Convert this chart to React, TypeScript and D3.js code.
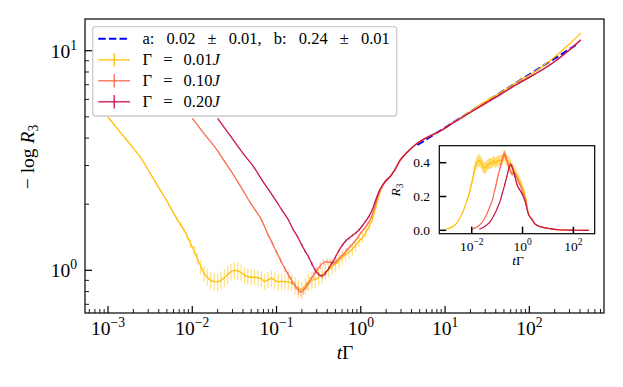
import React from "react";
import * as d3 from "d3";

// ---- data: t·Γ and −log R3 (with error of −log R3) ----
const yellowT = [0.001, 0.00141, 0.002, 0.0024, 0.00316, 0.00417, 0.00525, 0.00661,
  0.00724, 0.00794, 0.00871, 0.00955, 0.0105, 0.0115, 0.0126, 0.0138, 0.0151, 0.0166,
  0.0182, 0.02, 0.0219, 0.024, 0.0263, 0.0288, 0.0316, 0.0347, 0.038, 0.0417,
  0.0457, 0.0501, 0.055, 0.0603, 0.0661, 0.0724, 0.0794, 0.0871, 0.0955, 0.105,
  0.115, 0.126, 0.138, 0.151, 0.166, 0.182, 0.2, 0.219, 0.24, 0.263,
  0.288, 0.316, 0.347, 0.38, 0.417, 0.457, 0.501, 0.55, 0.603, 0.661,
  0.724, 0.794, 0.871, 0.955, 1.05, 1.15, 1.26, 1.38, 1.51, 1.66,
  1.82, 2.0, 2.24, 2.51, 2.95, 3.55, 4.68, 6.31, 8.91, 11.7,
  18.2, 28.8, 45.7, 72.4, 115, 182, 282, 407];
const yellowY = [4.99, 4.24, 3.6, 3.29, 2.77, 2.32, 2.0, 1.71,
  1.62, 1.53, 1.43, 1.32, 1.23, 1.13, 1.04, 0.97, 0.93, 0.9,
  0.89, 0.885, 0.9, 0.925, 0.955, 0.985, 1.0, 0.995, 0.975, 0.95,
  0.935, 0.93, 0.93, 0.925, 0.915, 0.89, 0.905, 0.92, 0.9, 0.885,
  0.89, 0.885, 0.885, 0.875, 0.855, 0.825, 0.815, 0.85, 0.885, 0.9,
  0.91, 0.93, 0.955, 0.985, 1.01, 1.04, 1.07, 1.1, 1.14, 1.18,
  1.21, 1.25, 1.3, 1.36, 1.41, 1.49, 1.59, 1.72, 1.95, 2.22,
  2.42, 2.55, 2.67, 2.85, 3.18, 3.45, 3.79, 4.05, 4.32, 4.63,
  5.17, 5.8, 6.45, 7.2, 8.0, 9.1, 10.5, 12.0];
const yellowErr = [0.01, 0.015, 0.02, 0.02, 0.025, 0.03, 0.035, 0.04,
  0.045, 0.05, 0.055, 0.06, 0.065, 0.07, 0.075, 0.08, 0.08, 0.08,
  0.085, 0.085, 0.085, 0.09, 0.09, 0.09, 0.09, 0.09, 0.085, 0.08,
  0.08, 0.08, 0.075, 0.075, 0.075, 0.075, 0.075, 0.075, 0.075, 0.075,
  0.075, 0.075, 0.075, 0.075, 0.075, 0.075, 0.075, 0.075, 0.08, 0.08,
  0.08, 0.08, 0.08, 0.08, 0.08, 0.085, 0.085, 0.085, 0.085, 0.085,
  0.085, 0.085, 0.085, 0.085, 0.08, 0.08, 0.075, 0.07, 0.06, 0.045,
  0.03, 0.02, 0.015, 0.01, 0.01, 0.01, 0.01, 0.01, 0.01, 0.01,
  0.01, 0.01, 0.01, 0.01, 0.01, 0.01, 0.01, 0.01];

const redT = [0.01, 0.0141, 0.02, 0.0235, 0.0316, 0.0398, 0.0501, 0.056,
  0.0673, 0.0794, 0.0891, 0.1, 0.112, 0.126, 0.138, 0.151, 0.166, 0.182,
  0.195, 0.209, 0.229, 0.251, 0.275, 0.302, 0.331, 0.363, 0.398, 0.437,
  0.479, 0.525, 0.575, 0.631, 0.692, 0.759, 0.832, 0.912, 1.0, 1.1,
  1.2, 1.32, 1.45, 1.58, 1.74, 2.0, 2.24, 2.51, 2.95, 3.55,
  4.68, 6.31, 8.91, 11.7, 18.2, 28.8, 45.7, 72.4, 115, 182,
  282, 407];
const redY = [4.92, 4.15, 3.5, 3.18, 2.68, 2.32, 2.0, 1.88,
  1.68, 1.45, 1.33, 1.21, 1.11, 1.015, 0.955, 0.9, 0.85, 0.81,
  0.795, 0.81, 0.85, 0.9, 0.95, 1.0, 1.05, 1.085, 1.095, 1.085,
  1.08, 1.11, 1.15, 1.19, 1.24, 1.29, 1.34, 1.4, 1.48, 1.55,
  1.62, 1.73, 1.92, 2.15, 2.36, 2.55, 2.67, 2.85, 3.18, 3.45,
  3.79, 4.05, 4.32, 4.62, 5.12, 5.7, 6.33, 7.05, 7.8, 8.7,
  9.9, 11.2];
const redErr = [0.01, 0.01, 0.01, 0.01, 0.012, 0.014, 0.016, 0.018,
  0.02, 0.022, 0.025, 0.028, 0.03, 0.032, 0.035, 0.035, 0.035, 0.035,
  0.035, 0.035, 0.035, 0.035, 0.035, 0.035, 0.035, 0.035, 0.035, 0.035,
  0.033, 0.03, 0.028, 0.025, 0.022, 0.02, 0.02, 0.02, 0.02, 0.02,
  0.02, 0.018, 0.015, 0.012, 0.01, 0.01, 0.01, 0.01, 0.01, 0.01,
  0.01, 0.01, 0.01, 0.01, 0.01, 0.01, 0.01, 0.01, 0.01, 0.01,
  0.01, 0.01];

const crimsonT = [0.02, 0.0282, 0.0398, 0.0535, 0.0708, 0.0891, 0.116, 0.139,
  0.158, 0.178, 0.2, 0.219, 0.24, 0.263, 0.288, 0.316, 0.347, 0.38,
  0.417, 0.457, 0.501, 0.55, 0.603, 0.661, 0.724, 0.794, 0.871, 0.955,
  1.05, 1.15, 1.26, 1.38, 1.51, 1.66, 1.82, 2.0, 2.24, 2.51,
  2.95, 3.55, 4.68, 6.31, 8.91, 11.7, 18.2, 28.8, 45.7, 72.4,
  115, 182, 282, 407];
const crimsonY = [4.92, 4.1, 3.42, 2.96, 2.5, 2.2, 1.88, 1.69,
  1.53, 1.42, 1.3, 1.22, 1.15, 1.07, 1.0, 0.96, 0.94, 0.97,
  1.02, 1.08, 1.15, 1.23, 1.3, 1.36, 1.4, 1.44, 1.48, 1.53,
  1.6, 1.68, 1.77, 1.9, 2.1, 2.3, 2.45, 2.57, 2.68, 2.85,
  3.18, 3.45, 3.79, 4.05, 4.32, 4.62, 5.12, 5.7, 6.33, 7.05,
  7.8, 8.7, 9.9, 11.2];
const crimsonErr = [0.005, 0.005, 0.005, 0.005, 0.005, 0.005, 0.01, 0.012,
  0.015, 0.018, 0.02, 0.02, 0.02, 0.02, 0.02, 0.02, 0.02, 0.02,
  0.02, 0.02, 0.02, 0.02, 0.02, 0.02, 0.02, 0.02, 0.018, 0.016,
  0.015, 0.014, 0.013, 0.012, 0.01, 0.01, 0.01, 0.01, 0.01, 0.01,
  0.01, 0.01, 0.01, 0.01, 0.01, 0.01, 0.01, 0.01, 0.01, 0.01,
  0.01, 0.01, 0.01, 0.01];

// power-law fit drawn as a straight segment in log-log
const fitT = [4.7, 357];
const fitY = [3.72, 10.6];

const seriesNames = ["0.01", "0.10", "0.20"];
const seriesColors = ["#FFC000", "#FA6A4F", "#C8144B"];
const fitText = "a: 0.02 ± 0.01, b: 0.24 ± 0.01";
const xTickExps = ["−3", "−2", "−1", "0", "1", "2"];
const yTickExps = ["0", "1"];
const insetXTickExps = ["−2", "0", "2"];
const insetYTicks = [0.0, 0.2, 0.4];

const FONT = "Liberation Serif, DejaVu Serif, serif";

export default function App() {
  const x = d3.scaleLog().domain([10 ** -3.273, 10 ** 2.8865]).range([85, 604]);
  const y = d3.scaleLog().domain([10 ** -0.1944, 10 ** 1.1444]).range([313, 19]);
  const ix = d3.scaleLog().domain([10 ** -3.2756, 10 ** 2.8386]).range([439.3, 594.7]);
  const iy = d3.scaleLinear().domain([-0.0201, 0.5006]).range([233.7, 145.7]);

  const series = [
    { t: yellowT, v: yellowY, e: yellowErr },
    { t: redT, v: redY, e: redErr },
    { t: crimsonT, v: crimsonY, e: crimsonErr },
  ].map((s, i) => ({
    ...s,
    color: seriesColors[i],
    name: seriesNames[i],
    pts: s.t.map((t, j) => [t, s.v[j], s.e[j]] as [number, number, number]),
  }));

  const mainLine = d3
    .line<[number, number, number]>()
    .x((d) => x(d[0]))
    .y((d) => y(d[1]))
    .curve(d3.curveMonotoneX);
  const insetLine = d3
    .line<[number, number, number]>()
    .x((d) => ix(d[0]))
    .y((d) => iy(Math.exp(-d[1])))
    .curve(d3.curveMonotoneX);

  const xTicks = x.ticks();
  const yTicks = y.ticks();
  const isMajor = (v: number) => Math.abs(Math.log10(v) - Math.round(Math.log10(v))) < 1e-6;
  const xMajors = xTicks.filter(isMajor);
  const yMajors = yTicks.filter(isMajor);
  const insetXMajors = [1e-2, 1, 1e2];

  const L = 85, R = 604, T = 19, B = 313;
  const iL = 439.3, iR = 594.7, iT = 145.7, iB = 233.7;

  const legendRows = [38.7, 59.8, 80.8, 101.8];
  const txt = { fontFamily: FONT };

  return (
    <svg
      width={623}
      height={387}
      style={{ position: "absolute", left: 0, top: 0, background: "#fff", fontFamily: FONT }}
    >
      <defs>
        <clipPath id="mainClip">
          <rect x={L} y={T} width={R - L} height={B - T} />
        </clipPath>
        <clipPath id="insetClip">
          <rect x={iL} y={iT} width={iR - iL} height={iB - iT} />
        </clipPath>
      </defs>
      <rect x={0} y={0} width={623} height={387} fill="#fff" />

      {/* main data */}
      <g clipPath="url(#mainClip)">
        <line
          x1={x(fitT[0])}
          y1={y(fitY[0])}
          x2={x(fitT[1])}
          y2={y(fitY[1])}
          stroke="#0000ff"
          strokeWidth={2}
          strokeDasharray="7.4 3.2"
        />
        {series.map((s) => (
          <g key={s.name}>
            {s.pts.map((d, j) => (
              <line
                key={j}
                x1={x(d[0])}
                x2={x(d[0])}
                y1={y(d[1] - d[2])}
                y2={y(d[1] + d[2])}
                stroke={s.color}
                strokeOpacity={0.55}
                strokeWidth={1.1}
              />
            ))}
            <path d={mainLine(s.pts) || ""} fill="none" stroke={s.color} strokeWidth={1.3} />
          </g>
        ))}
      </g>

      {/* main frame */}
      <rect x={L} y={T} width={R - L} height={B - T} fill="none" stroke="#000" strokeWidth={1.2} />

      {/* x ticks (inward) */}
      {xTicks.map((v, i) => (
        <line
          key={"xt" + i}
          x1={x(v)}
          x2={x(v)}
          y1={B}
          y2={B - (isMajor(v) ? 7 : 4)}
          stroke="#000"
          strokeWidth={isMajor(v) ? 1.2 : 0.9}
        />
      ))}
      {xMajors.map((v, i) => (
        <text key={"xl" + i} x={x(v)} y={334.5} textAnchor="middle" fontSize={19.5} style={txt}>
          10
          <tspan dy={-8} fontSize={13.6}>
            {xTickExps[i]}
          </tspan>
        </text>
      ))}
      {/* y ticks */}
      {yTicks.map((v, i) => (
        <line
          key={"yt" + i}
          x1={L}
          x2={L + (isMajor(v) ? 7 : 4)}
          y1={y(v)}
          y2={y(v)}
          stroke="#000"
          strokeWidth={isMajor(v) ? 1.2 : 0.9}
        />
      ))}
      {yMajors.map((v, i) => (
        <text key={"yl" + i} x={77} y={y(v) + 7} textAnchor="end" fontSize={19.5} style={txt}>
          10
          <tspan dy={-8} fontSize={13.6}>
            {yTickExps[i]}
          </tspan>
        </text>
      ))}

      {/* axis labels */}
      <text x={345} y={359} textAnchor="middle" fontSize={19.5} style={txt}>
        <tspan fontStyle="italic">t</tspan>Γ
      </text>
      <text transform="translate(34,157) rotate(-90)" textAnchor="middle" fontSize={19.5} style={txt}>
        − log <tspan fontStyle="italic">R</tspan>
        <tspan dy={4} fontSize={13.6}>3</tspan>
      </text>

      {/* legend */}
      <rect x={92.7} y={26.7} width={304} height={89.3} rx={3} fill="#fff" fillOpacity={0.8} stroke="#cccccc" strokeWidth={1.3} />
      <line x1={98.3} x2={130} y1={legendRows[0]} y2={legendRows[0]} stroke="#0000ff" strokeWidth={2} strokeDasharray="7.4 3.2" />
      <text x={142.5} y={legendRows[0] + 5.5} fontSize={16.5} wordSpacing={8} style={txt}>
        {fitText}
      </text>
      {series.map((s, i) => {
        const ry = legendRows[i + 1];
        return (
          <g key={"lg" + i}>
            <line x1={98.3} x2={130} y1={ry} y2={ry} stroke={s.color} strokeWidth={1.3} />
            <line x1={114.2} x2={114.2} y1={ry - 6.7} y2={ry + 6.7} stroke={s.color} strokeWidth={1.3} />
            <text x={142.5} y={ry + 5.5} fontSize={16.5} wordSpacing={7} style={txt}>
              Γ = {s.name}
              <tspan fontStyle="italic">J</tspan>
            </text>
          </g>
        );
      })}

      {/* inset */}
      <rect x={iL} y={iT} width={iR - iL} height={iB - iT} fill="#fff" />
      <g clipPath="url(#insetClip)">
        {series.map((s) => (
          <g key={"in" + s.name}>
            {s.pts.map((d, j) => {
              const r = Math.exp(-d[1]);
              return (
                <line
                  key={j}
                  x1={ix(d[0])}
                  x2={ix(d[0])}
                  y1={iy(r - r * d[2])}
                  y2={iy(r + r * d[2])}
                  stroke={s.color}
                  strokeOpacity={0.55}
                  strokeWidth={1.1}
                />
              );
            })}
            <path d={insetLine(s.pts) || ""} fill="none" stroke={s.color} strokeWidth={1.2} />
          </g>
        ))}
      </g>
      <rect x={iL} y={iT} width={iR - iL} height={iB - iT} fill="none" stroke="#000" strokeWidth={1.2} />
      {insetXMajors.map((v, i) => (
        <g key={"ixt" + i}>
          <line x1={ix(v)} x2={ix(v)} y1={iB} y2={iB - 7} stroke="#000" strokeWidth={1.5} />
          <text x={ix(v)} y={251} textAnchor="middle" fontSize={13.5} style={txt}>
            10
            <tspan dy={-5.6} fontSize={9.5}>
              {insetXTickExps[i]}
            </tspan>
          </text>
        </g>
      ))}
      {insetYTicks.map((v, i) => (
        <g key={"iyt" + i}>
          <line x1={iL} x2={iL + 7} y1={iy(v)} y2={iy(v)} stroke="#000" strokeWidth={1.5} />
          <text x={430} y={iy(v) + 4.5} textAnchor="end" fontSize={13.5} style={txt}>
            {v.toFixed(1)}
          </text>
        </g>
      ))}
      <text x={518} y={265} textAnchor="middle" fontSize={13.5} style={txt}>
        <tspan fontStyle="italic">t</tspan>Γ
      </text>
      <text transform="translate(400,190) rotate(-90)" textAnchor="middle" fontSize={13.5} style={txt}>
        <tspan fontStyle="italic">R</tspan>
        <tspan dy={3} fontSize={9.5}>3</tspan>
      </text>
    </svg>
  );
}
